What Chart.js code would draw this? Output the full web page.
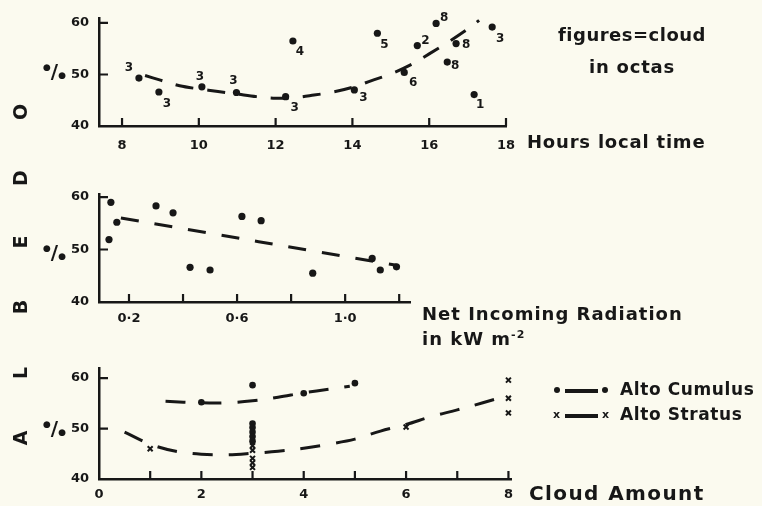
<!DOCTYPE html>
<html>
<head>
<meta charset="utf-8">
<script src="https://cdn.jsdelivr.net/npm/chart.js@4.4.1/dist/chart.umd.min.js"></script>
<style>
  body{margin:0;background:#fbfaef;}
  #wrap{position:relative;width:762px;height:506px;overflow:hidden;background:#fbfaef;}
  canvas{position:absolute;left:0;}
  .t{position:absolute;font:bold 18px 'DejaVu Sans';color:#171717;white-space:nowrap;line-height:1;}
  .v{position:absolute;font:bold 19px 'DejaVu Sans';color:#171717;line-height:1;transform:translate(-50%,-50%) rotate(-90deg);}
  .pct{position:absolute;left:43px;font:bold 20px 'DejaVu Sans';color:#171717;line-height:1;}
  .pct i{font-style:normal;font-size:9px;position:relative;}
  .dot{position:absolute;width:7px;height:7px;border-radius:50%;background:#171717;}
  .bar{position:absolute;height:3px;background:#171717;}
  .xm{position:absolute;font:bold 11px 'DejaVu Sans';color:#171717;line-height:1;}
</style>
</head>
<body>
<div id="wrap">
  <canvas id="c1" width="762" height="170" style="top:0"></canvas>
  <canvas id="c2" width="762" height="170" style="top:170px"></canvas>
  <canvas id="c3" width="762" height="166" style="top:340px"></canvas>

  <div class="v" style="left:20px;top:438px">A</div>
  <div class="v" style="left:20px;top:373px">L</div>
  <div class="v" style="left:20px;top:307px">B</div>
  <div class="v" style="left:20px;top:242px">E</div>
  <div class="v" style="left:20px;top:178px">D</div>
  <div class="v" style="left:20px;top:112px">O</div>

  <div class="pct" style="top:61px"><i style="top:-8px">●</i>/<i>●</i></div>
  <div class="pct" style="top:242px"><i style="top:-8px">●</i>/<i>●</i></div>
  <div class="pct" style="top:418px"><i style="top:-8px">●</i>/<i>●</i></div>

  <div class="t" style="left:632px;top:26px;transform:translateX(-50%);letter-spacing:0.5px">figures=cloud</div>
  <div class="t" style="left:632px;top:58px;transform:translateX(-50%);letter-spacing:0.8px">in octas</div>
  <div class="t" style="left:527px;top:133px;letter-spacing:0.8px">Hours local time</div>
  <div class="t" style="left:422px;top:305px;letter-spacing:1px">Net Incoming Radiation</div>
  <div class="t" style="left:422px;top:329px;letter-spacing:1px">in kW m<sup style="font-size:11px">-2</sup></div>

  <div class="dot" style="left:554px;top:387px;width:6px;height:6px"></div>
  <div class="bar" style="left:565px;top:389px;width:33px;height:3.5px"></div>
  <div class="dot" style="left:602px;top:387px;width:6px;height:6px"></div>
  <div class="t" style="left:620px;top:381px;font-size:17px;letter-spacing:0.6px">Alto Cumulus</div>
  <div class="xm" style="left:553px;top:409px">x</div>
  <div class="bar" style="left:565px;top:414px;width:33px;height:3.5px"></div>
  <div class="xm" style="left:602px;top:409px">x</div>
  <div class="t" style="left:620px;top:406px;font-size:17px;letter-spacing:0.6px">Alto Stratus</div>
  <div class="t" style="left:529px;top:483px;font-size:20px;letter-spacing:1.4px">Cloud Amount</div>
</div>
<script>
const INK = '#171717';

// --- panel 1: albedo vs hour of day, labelled with cloud in octas
const hourX      = [8.44, 8.96, 10.08, 10.98, 12.26, 12.45, 14.05, 14.65, 15.35, 15.69, 16.18, 16.70, 16.47, 17.17, 17.64];
const hourAlbedo = [49.3, 46.6, 47.6, 46.5, 45.7, 56.5, 47.0, 58.0, 50.4, 55.6, 59.9, 56.0, 52.4, 46.1, 59.2];
const hourCloud  = [3, 3, 3, 3, 3, 4, 3, 5, 6, 2, 8, 8, 8, 1, 3];
const hourFitX   = [8.6, 9.0, 9.5, 10.0, 10.5, 11.0, 11.5, 12.0, 12.5, 13.0, 13.5, 14.0, 14.5, 15.0, 15.5, 16.0, 16.5, 17.0, 17.3];
const hourFitY   = [49.8, 48.9, 47.8, 47.2, 46.7, 46.2, 45.7, 45.4, 45.5, 46.0, 46.6, 47.5, 48.8, 50.1, 51.8, 54.0, 56.3, 58.8, 60.5];
const hourTicks  = [8, 10, 12, 14, 16, 18];

// --- panel 2: albedo vs net incoming radiation
const radX      = [0.133, 0.126, 0.155, 0.30, 0.363, 0.426, 0.50, 0.618, 0.689, 0.88, 1.10, 1.13, 1.19];
const radAlbedo = [59.0, 51.9, 55.2, 58.3, 57.0, 46.6, 46.1, 56.3, 55.5, 45.5, 48.3, 46.1, 46.7];
const radFitX   = [0.17, 1.19];
const radFitY   = [56.0, 47.0];
const radTicks  = [0.2, 0.4, 0.6, 0.8, 1.0, 1.2];
const radLabels = [0.2, 0.6, 1.0];

// --- panel 3: albedo vs cloud amount
const acX = [2, 3, 4, 5, 3, 3, 3, 3, 3];
const acY = [55.2, 58.6, 57.0, 59.0, 51.0, 50.2, 49.3, 48.4, 47.5];
const asX = [1, 6, 8, 8, 8, 3, 3, 3, 3, 3];
const asY = [46.0, 50.3, 59.6, 56.0, 53.1, 46.6, 45.7, 44.1, 43.2, 42.3];
const acFitX = [1.3, 2.0, 2.5, 3.0, 3.5, 4.0, 4.5, 4.9];
const acFitY = [55.4, 55.1, 55.1, 55.5, 56.2, 57.1, 57.8, 58.4];
const asFitX = [0.5, 1.0, 1.5, 2.0, 2.5, 3.0, 3.5, 4.0, 4.5, 5.0, 5.5, 6.0, 6.5, 7.0, 7.5, 8.0];
const asFitY = [49.3, 46.9, 45.5, 44.9, 44.8, 45.1, 45.5, 46.1, 46.9, 47.9, 49.5, 50.8, 52.4, 53.7, 55.1, 56.6];
const cloudTicks  = [0, 1, 2, 3, 4, 5, 6, 7, 8];
const cloudLabels = [0, 2, 4, 6, 8];

const albedoTicks = [40, 50, 60];

const pts = (xs, ys) => xs.map((x, i) => ({x, y: ys[i]}));

Chart.defaults.font.family = 'DejaVu Sans';
Chart.defaults.font.size = 13;
Chart.defaults.font.weight = 'bold';
Chart.defaults.color = INK;

// tick marks point into the plot, like the original drawing
const inwardTicks = {
  id: 'inwardTicks',
  afterDatasetsDraw(chart){
    const {ctx, chartArea: a, scales: {x, y}} = chart;
    ctx.save();
    ctx.strokeStyle = INK; ctx.lineWidth = 2.2;
    ctx.beginPath();
    x.ticks.forEach(t => {
      if (t.value === x.min) return;
      const px = x.getPixelForValue(t.value);
      ctx.moveTo(px, a.bottom); ctx.lineTo(px, a.bottom - 8);
    });
    y.ticks.forEach(t => {
      if (t.value === y.min) return;
      const py = y.getPixelForValue(t.value);
      ctx.moveTo(a.left, py); ctx.lineTo(a.left + 9, py);
    });
    ctx.stroke();
    ctx.restore();
  }
};

// where each octa figure sits relative to its dot
const octaOffset = [[-10,-10],[8,12],[-2,-10],[-3,-12],[9,11],[7,11],[9,8],[7,12],[9,10],[8,-5],[8,-6],[10,1],[8,4],[6,10],[8,12]];
const octaLabels = {
  id: 'octaLabels',
  afterDatasetsDraw(chart){
    const ctx = chart.ctx;
    const meta = chart.getDatasetMeta(1);
    ctx.save();
    ctx.fillStyle = INK;
    ctx.font = "bold 12px 'DejaVu Sans'";
    ctx.textAlign = 'center'; ctx.textBaseline = 'middle';
    meta.data.forEach((p, i) => {
      const [dx, dy] = octaOffset[i];
      ctx.fillText(String(hourCloud[i]), p.x + dx, p.y + dy);
    });
    ctx.restore();
  }
};

const dashed = (data, dash) => ({
  data, showLine: true, pointRadius: 0, borderColor: INK, borderWidth: 3,
  borderDash: dash, tension: 0.35, clip: false
});
const dots = (data, r=3.6) => ({
  data, pointRadius: r, pointBackgroundColor: INK, pointBorderColor: INK,
  pointBorderWidth: 0, clip: false
});
const crosses = data => ({
  data, pointStyle: 'crossRot', pointRadius: 3.5, pointBorderColor: INK,
  pointBorderWidth: 2, clip: false
});

function panel(id, o){
  const lab = (list, fmt) => v => list.some(l => Math.abs(l - v) < 1e-6) ? fmt(v) : '';
  return new Chart(document.getElementById(id), {
    type: 'scatter',
    data: { datasets: o.datasets },
    options: {
      responsive: false, animation: false,
      layout: { padding: o.pad },
      plugins: { legend: {display:false}, tooltip: {enabled:false} },
      scales: {
        x: {
          type: 'linear', min: o.xMin, max: o.xMax,
          afterBuildTicks: s => { s.ticks = o.xTicks.map(v => ({value:v})); },
          afterFit: s => { s.height = o.xH; },
          grid: { display:false, drawTicks:false },
          border: { color: INK, width: 2.5 },
          ticks: { padding: o.xPad, autoSkip:false, maxRotation:0,
                   callback: lab(o.xLabels, o.xFmt || (v => String(v))) }
        },
        y: {
          type: 'linear', min: 40, max: o.yMax,
          afterBuildTicks: s => { s.ticks = albedoTicks.map(v => ({value:v})); },
          afterFit: s => { s.width = 99; },
          grid: { display:false, drawTicks:false },
          border: { color: INK, width: 2.5 },
          ticks: { padding: 10, autoSkip:false, callback: v => String(v) }
        }
      }
    },
    plugins: [inwardTicks].concat(o.extra || [])
  });
}

panel('c1', {
  datasets: [dashed(pts(hourFitX, hourFitY), [18, 14]), dots(pts(hourX, hourAlbedo))],
  xMin: 7.4, xMax: 18, yMax: 61, xTicks: hourTicks, xLabels: hourTicks,
  xH: 44, xPad: 12, pad: {left:0, top:13.6, right:256, bottom:0},
  extra: [octaLabels]
});

panel('c2', {
  datasets: [dashed(pts(radFitX, radFitY), [18, 16]), dots(pts(radX, radAlbedo))],
  xMin: 0.089, xMax: 1.24, yMax: 60.6, xTicks: radTicks, xLabels: radLabels,
  xFmt: v => v.toFixed(1).replace('.', '·'),
  xH: 38, xPad: 9, pad: {left:0, top:23.9, right:352, bottom:0}
});

panel('c3', {
  datasets: [
    dashed(pts(acFitX, acFitY), [20, 16]),
    dashed(pts(asFitX, asFitY), [20, 16]),
    dots(pts(acX, acY), 3.3),
    crosses(pts(asX, asY))
  ],
  xMin: 0, xMax: 8.05, yMax: 62, xTicks: cloudTicks, xLabels: cloudLabels,
  xH: 27, xPad: 8, pad: {left:0, top:28, right:251, bottom:0}
});
</script>
</body>
</html>
